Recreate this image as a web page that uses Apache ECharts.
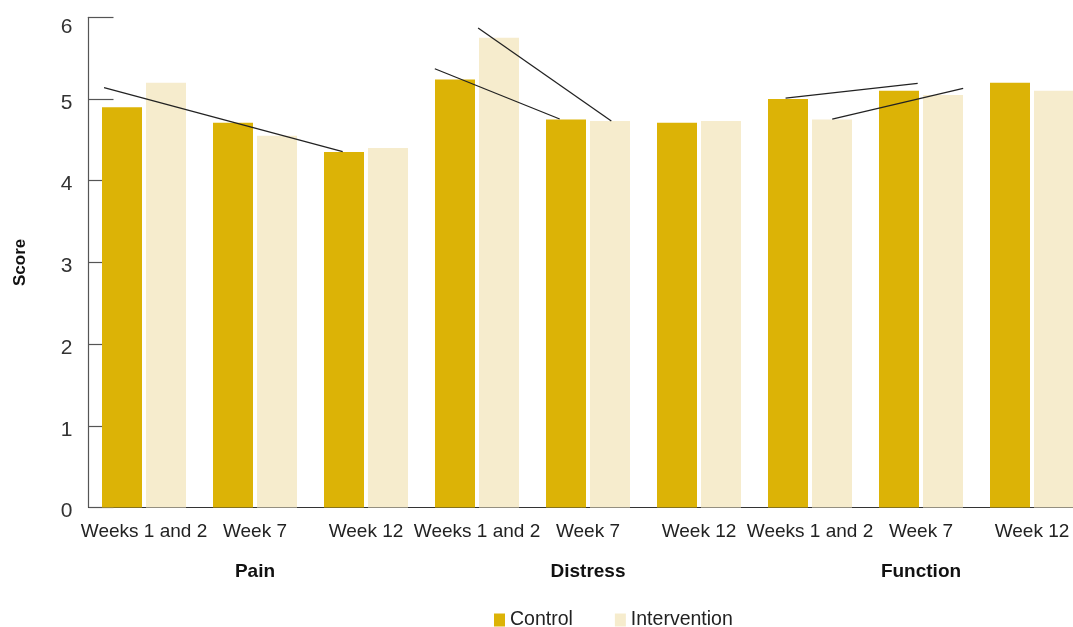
<!DOCTYPE html>
<html>
<head>
<meta charset="utf-8">
<script src="https://cdn.jsdelivr.net/npm/echarts@6/dist/echarts.min.js"></script>
<style>html,body{margin:0;padding:0;background:#fff}#c{width:1073px;height:627px}</style>
</head>
<body>
<div id="c"></div>
<script>
var categories = ['Weeks 1 and 2','Week 7','Week 12','Weeks 1 and 2','Week 7','Week 12','Weeks 1 and 2','Week 7','Week 12'];
var groups = ['Pain','Distress','Function'];
var control = [4.90, 4.71, 4.35, 5.24, 4.75, 4.71, 5.00, 5.10, 5.20];
var intervention = [5.20, 4.55, 4.40, 5.75, 4.73, 4.73, 4.75, 5.05, 5.10];
// trend segments: [x start, y start, x end, y end] in category units (0..9) and score
var segments = [
  [0.14, 5.14, 2.29, 4.355],
  [3.12, 5.37, 4.245, 4.755],
  [3.51, 5.87, 4.71, 4.73],
  [6.28, 5.01, 7.47, 5.19],
  [6.70, 4.755, 7.88, 5.13]
];
var yTicks = [0, 1, 2, 3, 4, 5, 6];

var FONT = "'Liberation Sans', Arial, sans-serif";
var chart = echarts.init(document.getElementById('c'));
var lineSeries = segments.map(function (s) {
  return {
    type: 'line', xAxisIndex: 2, yAxisIndex: 0,
    data: [[s[0], s[1]], [s[2], s[3]]],
    symbol: 'none', silent: true, z: 5,
    lineStyle: { color: '#222', width: 1.3 }
  };
});
chart.setOption({
  animation: false,
  grid: { left: 88.5, width: 999, top: 17.3, height: 490.2, containLabel: false, outerBoundsMode: 'none' },
  legend: {
    data: ['Control', 'Intervention'],
    left: 489, top: 605,
    itemWidth: 11, itemHeight: 13, itemGap: 42,
    icon: 'rect',
    textStyle: { fontFamily: FONT, fontSize: 19.5, color: '#222' }
  },
  xAxis: [
    {
      type: 'category', data: categories, position: 'bottom',
      axisLine: { show: true, lineStyle: { color: '#333', width: 1 } },
      axisTick: { show: false },
      axisLabel: { fontFamily: FONT, fontSize: 19, color: '#222', margin: 15, interval: 0 }
    },
    {
      type: 'category', data: groups, position: 'bottom',
      axisLine: { show: false }, axisTick: { show: false },
      axisLabel: { fontFamily: FONT, fontSize: 19, fontWeight: 'bold', color: '#111', margin: 55, interval: 0 }
    },
    { type: 'value', min: 0, max: 9, show: false }
  ],
  yAxis: {
    type: 'value', min: yTicks[0], max: yTicks[yTicks.length - 1], interval: 1,
    name: 'Score', nameLocation: 'middle', nameGap: 60, nameRotate: 90,
    nameTextStyle: { fontFamily: FONT, fontSize: 17, fontWeight: 'bold', color: '#111' },
    axisLine: { show: true, lineStyle: { color: '#555', width: 1.2 } },
    axisTick: { show: true, inside: true, length: 25, lineStyle: { color: '#555', width: 1.2 } },
    axisLabel: {
      fontFamily: FONT, fontSize: 21, color: '#333', margin: 16,
      formatter: function (v) { return v === 6 ? '{t|6}' : '{n|' + v + '}'; },
      rich: {
        t: { fontFamily: FONT, fontSize: 21, color: '#333', padding: [20, 0, 0, 0] },
        n: { fontFamily: FONT, fontSize: 21, color: '#333', padding: [8, 0, 0, 0] }
      }
    },
    splitLine: { show: false }
  },
  series: [
    { name: 'Control', type: 'bar', data: control, barWidth: 40, barGap: '10%', itemStyle: { color: '#DCB306' } },
    { name: 'Intervention', type: 'bar', data: intervention, barWidth: 40, barGap: '10%', itemStyle: { color: '#F6ECCD' } }
  ].concat(lineSeries)
});
</script>
</body>
</html>
